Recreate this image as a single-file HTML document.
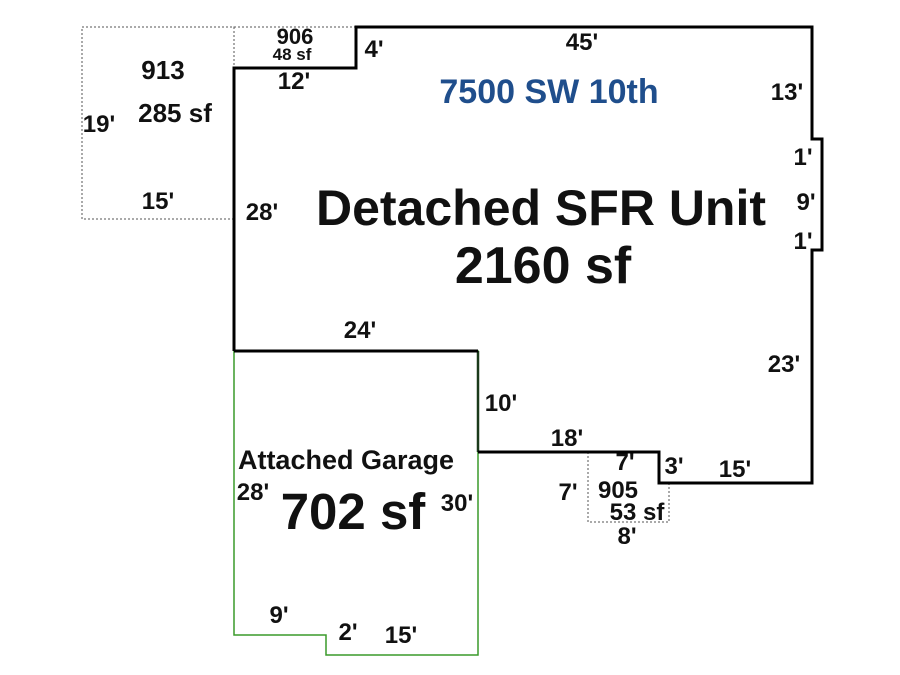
<!DOCTYPE html>
<html><head><style>
html,body{margin:0;padding:0;background:#fff;}
svg{display:block;}
text{font-family:"Liberation Sans",Arial,sans-serif;font-weight:bold;fill:#111;}
</style></head><body>
<svg width="900" height="675" viewBox="0 0 900 675" xmlns="http://www.w3.org/2000/svg">
<g fill="none" stroke="#555" stroke-width="1" stroke-dasharray="2,2">
<rect x="82" y="27" width="152" height="192"/>
<rect x="234" y="27" width="122" height="41"/>
<polyline points="588,452 588,522 669,522 669,483"/>
</g>
<polygon points="234,351 478,351 478,655 326,655 326,635 234,635" fill="none" stroke="#3a9a2a" stroke-width="1.5"/>
<polyline points="478,351 478,452" fill="none" stroke="#1a3a1a" stroke-width="2.5"/>
<polyline points="234,351 234,68 356,68 356,27 812,27 812,139 822,139 822,250 812,250 812,483 659,483 659,452 478,452" fill="none" stroke="#000" stroke-width="3"/>
<line x1="234" y1="351" x2="478" y2="351" stroke="#000" stroke-width="3"/>
<g text-anchor="middle">
<text x="295" y="44" font-size="22">906</text>
<text x="292" y="60" font-size="17">48 sf</text>
<text x="374" y="57" font-size="24">4'</text>
<text x="582" y="50" font-size="24">45'</text>
<text x="294" y="89" font-size="24">12'</text>
<text x="163" y="79" font-size="26">913</text>
<text x="175" y="122" font-size="26">285 sf</text>
<text x="99" y="132" font-size="24">19'</text>
<text x="158" y="209" font-size="24">15'</text>
<text x="262" y="220" font-size="24">28'</text>
<text x="549" y="103" font-size="34" style="fill:#1f4e8c">7500 SW 10th</text>
<text x="787" y="100" font-size="24">13'</text>
<text x="803" y="165" font-size="24">1'</text>
<text x="806" y="210" font-size="24">9'</text>
<text x="803" y="249" font-size="24">1'</text>
<text x="541" y="225" font-size="50">Detached SFR Unit</text>
<text x="543" y="283" font-size="52">2160 sf</text>
<text x="360" y="338" font-size="24">24'</text>
<text x="784" y="372" font-size="24">23'</text>
<text x="501" y="411" font-size="24">10'</text>
<text x="567" y="446" font-size="24">18'</text>
<text x="625" y="470" font-size="24">7'</text>
<text x="674" y="474" font-size="24">3'</text>
<text x="735" y="477" font-size="24">15'</text>
<text x="568" y="500" font-size="24">7'</text>
<text x="618" y="498" font-size="24">905</text>
<text x="637" y="520" font-size="24">53 sf</text>
<text x="627" y="544" font-size="24">8'</text>
<text x="346" y="469" font-size="27">Attached Garage</text>
<text x="253" y="500" font-size="24">28'</text>
<text x="353" y="529" font-size="51">702 sf</text>
<text x="457" y="511" font-size="24">30'</text>
<text x="279" y="623" font-size="24">9'</text>
<text x="348" y="640" font-size="24">2'</text>
<text x="401" y="643" font-size="24">15'</text>
</g>
</svg>
</body></html>
